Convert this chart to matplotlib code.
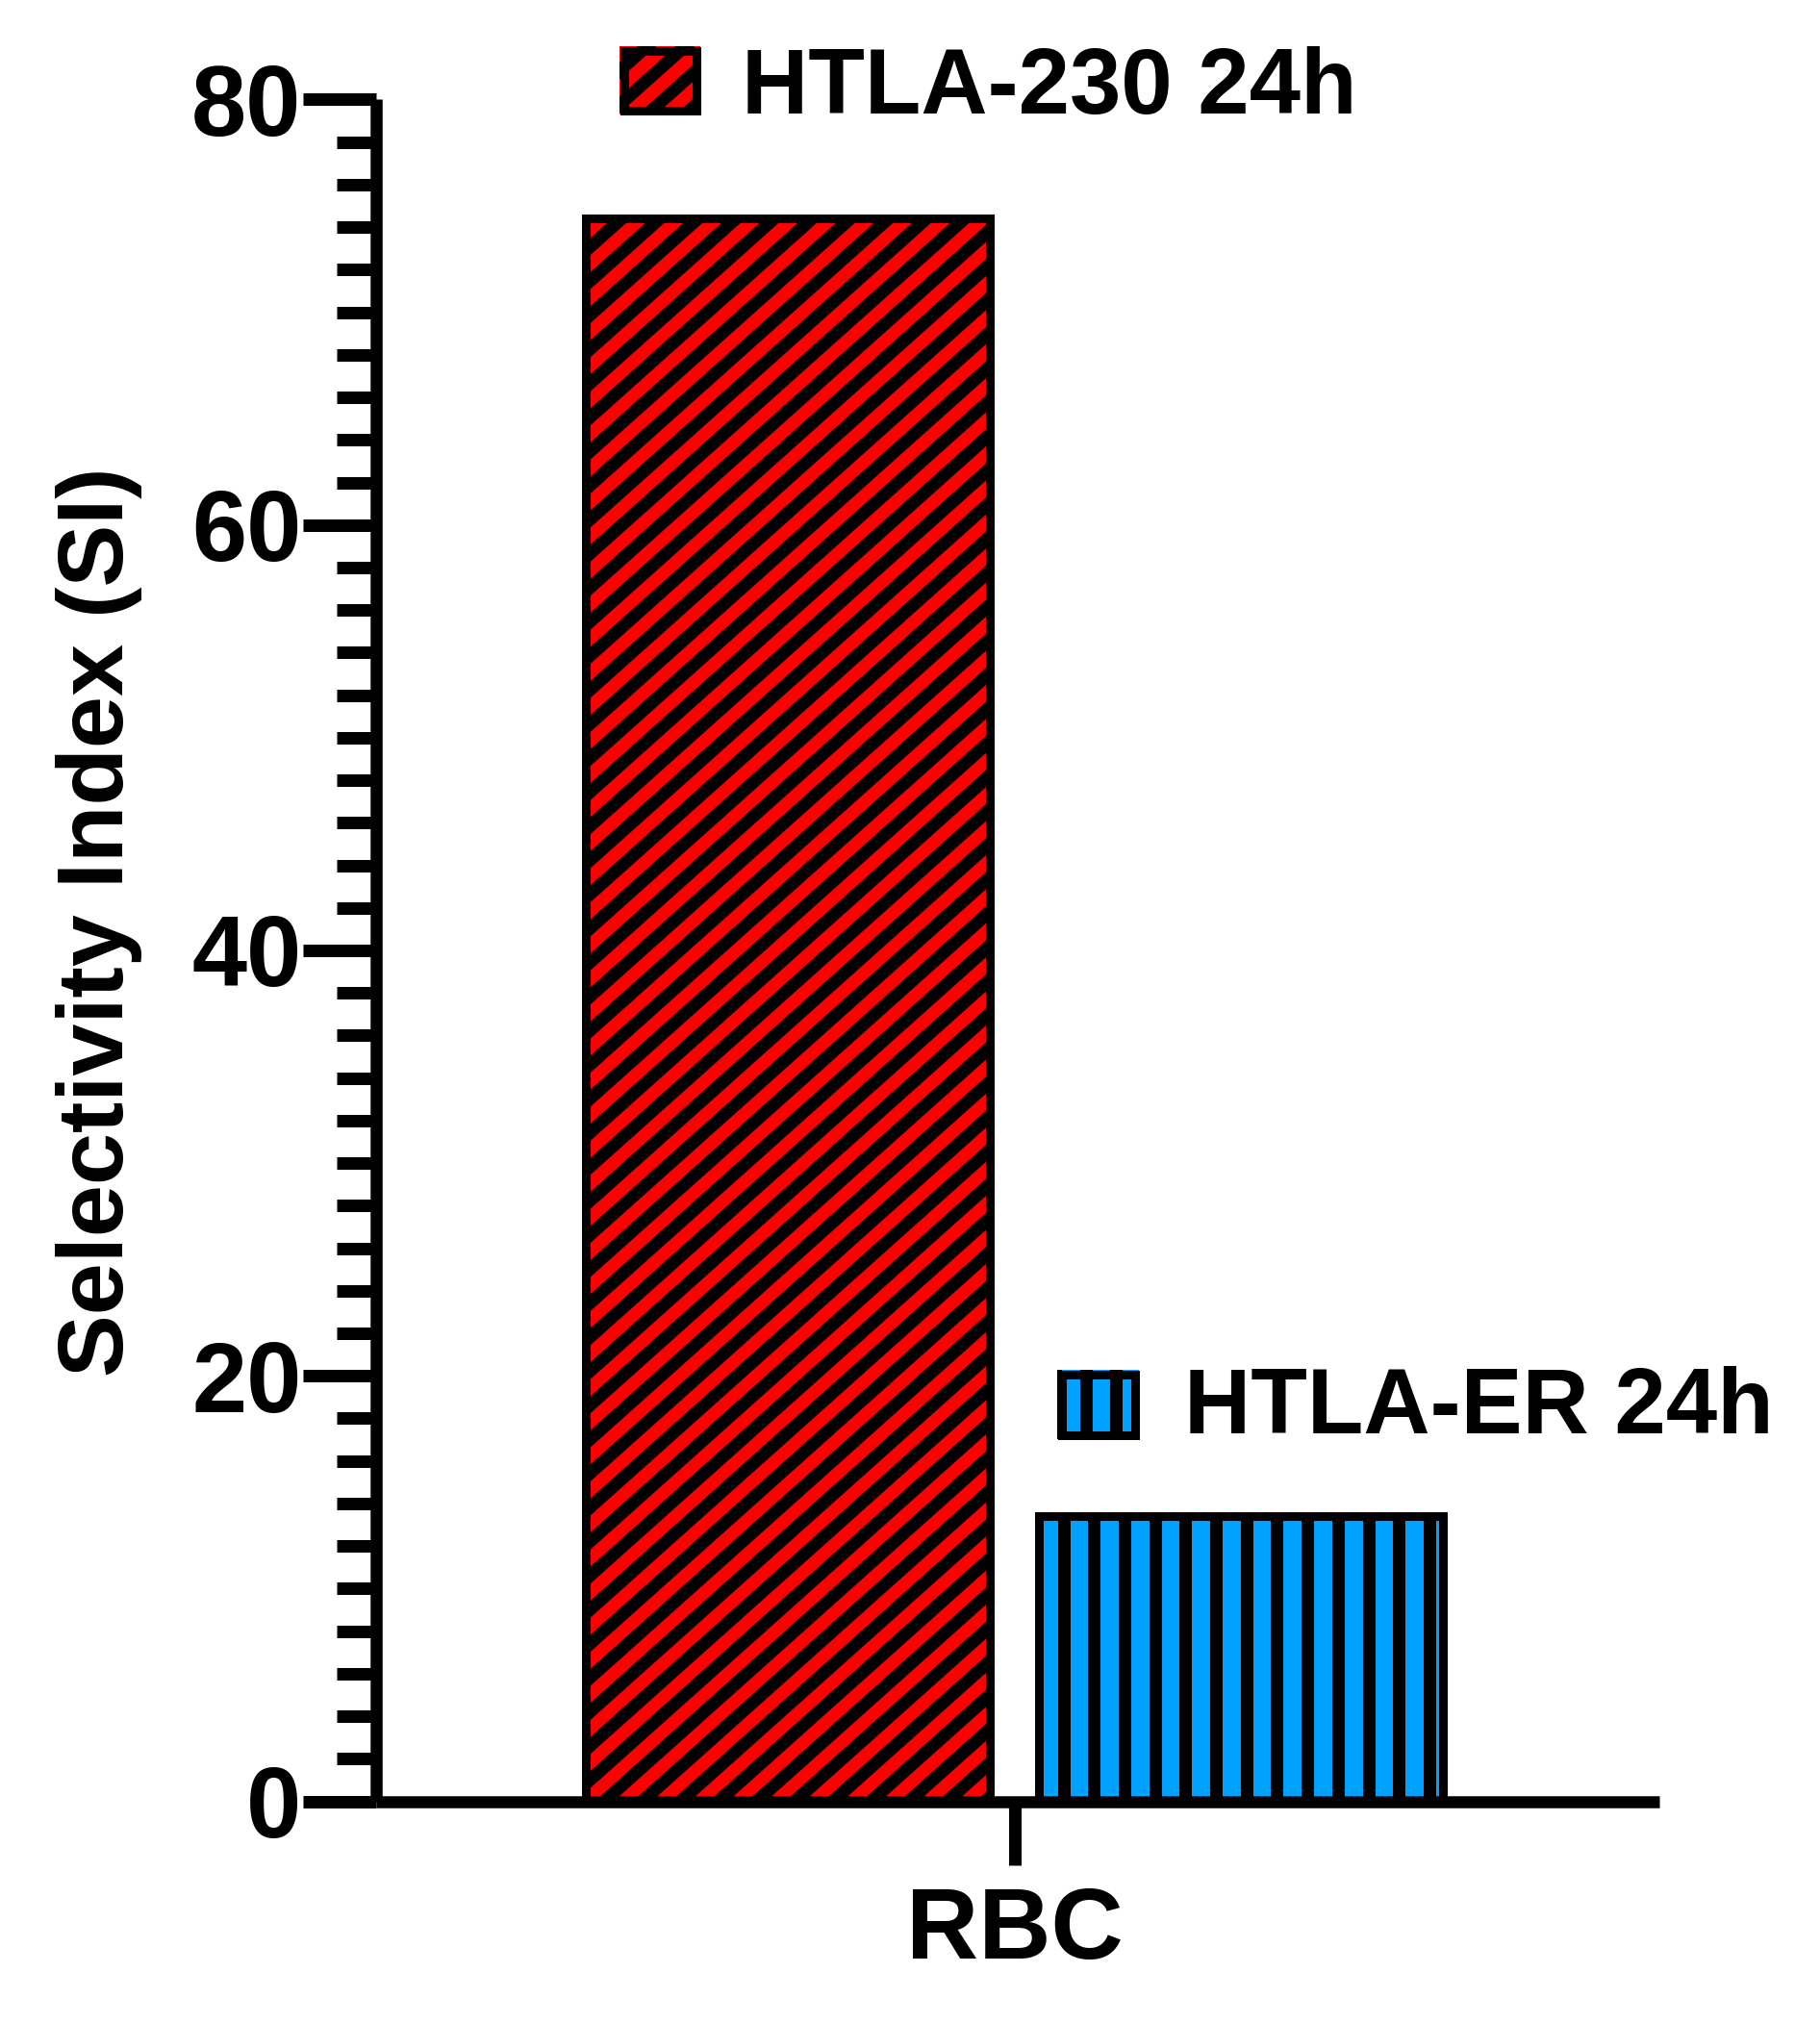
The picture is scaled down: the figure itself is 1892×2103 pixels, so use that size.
import matplotlib
matplotlib.use("Agg")
import numpy as np
import matplotlib.pyplot as plt
from matplotlib.patches import Rectangle
from matplotlib.collections import LineCollection
from matplotlib.transforms import IdentityTransform
from matplotlib.ticker import MultipleLocator

plt.rcParams['font.family'] = ['Liberation Sans', 'DejaVu Sans']
plt.rcParams['font.weight'] = 'bold'

# ---------------- data ----------------
categories = ["RBC"]
series_names = ["HTLA-230 24h", "HTLA-ER 24h"]
htla230 = [74.4]
htla_er = [13.4]
yticks = [0, 20, 40, 60, 80]
ylabel = "Selectivity Index (SI)"

RED = "#FF0000"
BLUE = "#00A2FF"

W, H = 1892, 2103
DPI = 100
fig = plt.figure(figsize=(W / DPI, H / DPI), dpi=DPI)
fig.patch.set_facecolor("white")


def fx(px):
    return px / W


def fy(py):
    return 1 - py / H


PT = 72.0 / DPI  # points per pixel

ax_left, ax_right = 391, 1725
ax_top, ax_bottom = 103.5, 1872.5
ax = fig.add_axes([fx(ax_left), fy(ax_bottom),
                   (ax_right - ax_left) / W, (ax_bottom - ax_top) / H])

x = np.arange(len(categories), dtype=float)
bar_w = 0.6
off = 0.337

ax.set_xlim(-0.948, 0.958)
ax.set_ylim(0, 80)

# fills
b1 = ax.bar(x - off, htla230, width=bar_w, color=RED, edgecolor="none", zorder=1)
b2 = ax.bar(x + off, htla_er, width=bar_w, color=BLUE, edgecolor="none", zorder=1)


def stripe_collection(bbox, angle_deg, period, anchor, lw_px, zorder):
    th = np.deg2rad(angle_deg)
    d = np.array([np.cos(th), np.sin(th)])
    n = np.array([-np.sin(th), np.cos(th)])
    (x0, y0), (x1, y1) = bbox
    corners = np.array([[x0, y0], [x0, y1], [x1, y0], [x1, y1]])
    proj = corners @ n
    a0 = anchor @ n
    kmin = int(np.floor((proj.min() - a0) / period)) - 1
    kmax = int(np.ceil((proj.max() - a0) / period)) + 1
    L = np.hypot(x1 - x0, y1 - y0) + 50
    mid = np.array([(x0 + x1) / 2, (y0 + y1) / 2])
    segs = []
    for k in range(kmin, kmax + 1):
        c = a0 + k * period
        p = c * n
        t0 = (mid - p) @ d
        segs.append([p + (t0 - L) * d, p + (t0 + L) * d])
    return LineCollection(segs, colors="black", linewidths=lw_px * PT,
                          transform=IdentityTransform(), zorder=zorder,
                          capstyle="butt")


# stripes on bars (display coordinates), clipped to each bar
for p in b1.patches:
    ext = p.get_window_extent()
    lc = stripe_collection(((ext.x0, ext.y0), (ext.x1, ext.y1)), 41.8, 26.4,
                           np.array([642.0, H - 231.0]), 13.2, 2)
    ax.add_collection(lc, autolim=False)
    lc.set_clip_path(p)
for p in b2.patches:
    ext = p.get_window_extent()
    lc = stripe_collection(((ext.x0, ext.y0), (ext.x1, ext.y1)), 90.0, 31.7,
                           np.array([1105.5, 0.0]), 13.0, 2)
    ax.add_collection(lc, autolim=False)
    lc.set_clip_path(p)

# outlines
ax.bar(x - off, htla230, width=bar_w, fill=False, edgecolor="black",
       linewidth=9 * PT, zorder=3)
ax.bar(x + off, htla_er, width=bar_w, fill=False, edgecolor="black",
       linewidth=9 * PT, zorder=3)

# axes styling
for s in ["top", "right"]:
    ax.spines[s].set_visible(False)
for s in ["left", "bottom"]:
    ax.spines[s].set_linewidth(12.5 * PT)
    ax.spines[s].set_capstyle("butt")

ax.set_yticks(yticks)
ax.set_yticklabels([str(v) for v in yticks])
ax.yaxis.set_minor_locator(MultipleLocator(2))
ax.set_xticks(x)
ax.set_xticklabels(categories)

ax.tick_params(axis="y", which="major", length=76 * PT, width=13 * PT,
               pad=1, labelsize=74, direction="out")
ax.tick_params(axis="y", which="minor", length=41 * PT, width=13 * PT,
               direction="out")
ax.tick_params(axis="x", which="major", length=66 * PT, width=13 * PT,
               pad=16, labelsize=75, direction="out")
ax.tick_params(axis="x", which="minor", length=0)
for lab in ax.get_xticklabels() + ax.get_yticklabels():
    lab.set_fontweight("bold")

# y label
fig.text(fx(103), fy(958), ylabel, rotation=90, ha="center", va="center",
         fontsize=70, fontweight="bold")


# legends (drawn in display pixels)
def legend_box(x0, y0i, x1, y1i, color, angle, period, anchor, label, tx, tbase):
    lw = 9
    rect_fill = Rectangle((x0, H - y1i), x1 - x0, y1i - y0i, facecolor=color,
                          edgecolor="none", transform=IdentityTransform(),
                          zorder=5)
    fig.add_artist(rect_fill)
    lc = stripe_collection(((x0, H - y1i), (x1, H - y0i)), angle, period,
                           anchor, 13.0, 6)
    fig.add_artist(lc)
    lc.set_clip_path(rect_fill)
    rect_edge = Rectangle((x0 + lw / 2, H - y1i + lw / 2), x1 - x0 - lw,
                          y1i - y0i - lw, facecolor="none", edgecolor="black",
                          linewidth=lw * PT, transform=IdentityTransform(),
                          zorder=7)
    fig.add_artist(rect_edge)
    fig.text(fx(tx), fy(tbase), label, ha="left", va="baseline",
             fontsize=69, fontweight="bold", zorder=8)


legend_box(644, 48, 728, 119, RED, 41.8, 26.4, np.array([672.0, H - 84.0]),
           series_names[0], 771, 118)
legend_box(1099, 1424, 1184, 1496, BLUE, 90.0, 31.7, np.array([1128.5, 0.0]),
           series_names[1], 1231, 1490)

fig.savefig("out.png", dpi=DPI, facecolor="white")
